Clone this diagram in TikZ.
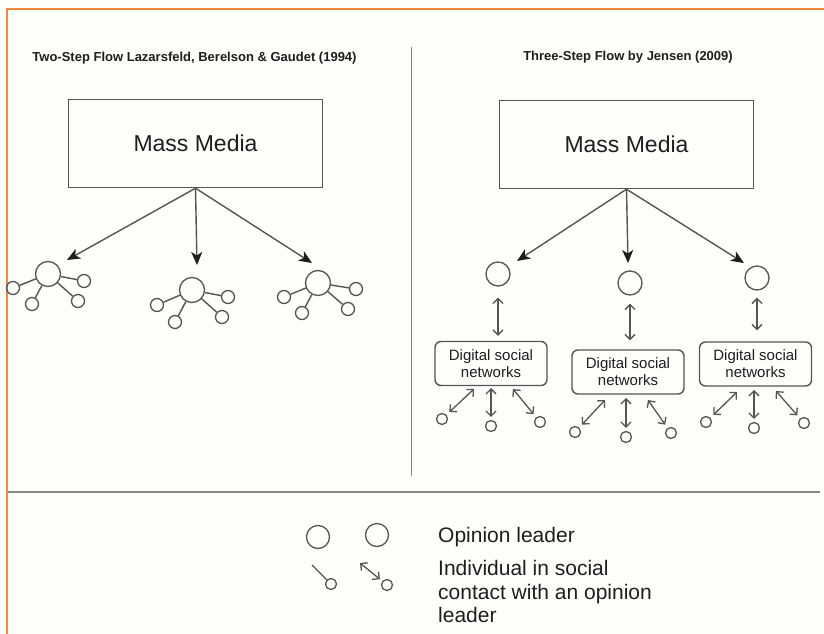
\documentclass[tikz,border=0pt]{standalone}
\usepackage{fontspec}
\setmainfont{Liberation Sans}
\usetikzlibrary{arrows.meta}
\definecolor{frameorange}{HTML}{F5883C}
\definecolor{linegray}{HTML}{555555}
\definecolor{divgray}{HTML}{888888}
\definecolor{tipdark}{HTML}{1E1E1E}
\definecolor{txt}{HTML}{1E1E1E}
\definecolor{paper}{HTML}{FEFEFB}
\begin{document}
\begin{tikzpicture}[x=1pt,y=-1pt,
 mmbox/.style={draw=linegray,line width=1.4pt,minimum width=254pt,minimum height=88pt,inner sep=0pt,font=\fontsize{23}{26}\selectfont,text=txt},
 big/.style={circle,draw=linegray,line width=1.3pt,minimum size=25pt,inner sep=0pt},
 small/.style={circle,draw=linegray,line width=1.3pt,minimum size=13pt,inner sep=0pt},
 tiny/.style={circle,draw=linegray,line width=1.3pt,minimum size=11pt,inner sep=0pt},
 lead/.style={circle,draw=linegray,line width=1.3pt,minimum size=24pt,inner sep=0pt},
 dsn/.style={draw=linegray,line width=1.4pt,rounded corners=6pt,minimum width=112pt,minimum height=44pt,align=center,inner sep=0pt,font=\fontsize{15}{17}\selectfont,text=txt},
 mainarrow/.style={draw=linegray,line width=1.4pt,-{Stealth[length=13pt,width=11pt,inset=3.5pt,color=tipdark]}},
 tie/.style={draw=linegray,line width=1.4pt},
 dbl/.style={draw=linegray,line width=1.3pt,{Straight Barb[length=5pt,width=10pt]}-{Straight Barb[length=5pt,width=10pt]}},
 title/.style={font=\fontsize{13}{15}\selectfont\bfseries,text=txt},
 legend/.style={font=\fontsize{21}{23.5}\selectfont,text=txt,anchor=west,align=left,inner sep=0pt}
]
\useasboundingbox (0,0) rectangle (824,634);
\fill[paper] (0,0) rectangle (824,634);
\draw[frameorange,line width=2.2pt] (7,634) -- (7,9) -- (824,9);
\draw[divgray,line width=1.6pt] (411.5,47) -- (411.5,476);
\draw[divgray,line width=2.2pt] (8,492) -- (820,492);

% titles
\node[title] (t1) at (194.5,58) {Two-Step Flow Lazarsfeld, Berelson \& Gaudet (1994)};
\node[title] (t2) at (628,57) {Three-Step Flow by Jensen (2009)};

% mass media boxes
\node[mmbox] (mm1) at (195.5,143.5) {Mass Media};
\node[mmbox] (mm2) at (626.5,144.5) {Mass Media};

% ---------- left: two-step ----------
\coordinate (p1) at (67,260);
\coordinate (p2) at (197,265);
\coordinate (p3) at (312,263);
\draw[mainarrow] (mm1.south) -- (p1);
\draw[mainarrow] (mm1.south) -- (p2);
\draw[mainarrow] (mm1.south) -- (p3);

\node[big] (b1) at (48,274) {};
\node[small] (b1a) at (13,288) {};
\node[small] (b1b) at (32,304) {};
\node[small] (b1c) at (84,281) {};
\node[small] (b1d) at (78,301) {};
\foreach \s in {b1a,b1b,b1c,b1d} \draw[tie] (b1) -- (\s);

\node[big] (b2) at (192,290) {};
\node[small] (b2a) at (157,305) {};
\node[small] (b2b) at (175,322) {};
\node[small] (b2c) at (228,297) {};
\node[small] (b2d) at (222,317) {};
\foreach \s in {b2a,b2b,b2c,b2d} \draw[tie] (b2) -- (\s);

\node[big] (b3) at (318,283) {};
\node[small] (b3a) at (284,297) {};
\node[small] (b3b) at (302,313) {};
\node[small] (b3c) at (356,289) {};
\node[small] (b3d) at (348,309) {};
\foreach \s in {b3a,b3b,b3c,b3d} \draw[tie] (b3) -- (\s);

% ---------- right: three-step ----------
\coordinate (q1) at (517,261);
\coordinate (q2) at (628,263);
\coordinate (q3) at (744,263);
\draw[mainarrow] (mm2.south) -- (q1);
\draw[mainarrow] (mm2.south) -- (q2);
\draw[mainarrow] (mm2.south) -- (q3);

\node[lead] (l1) at (498,274) {};
\node[lead] (l2) at (630,283) {};
\node[lead] (l3) at (757,278) {};

\node[dsn] (d1) at (491,363.5) {Digital social\\networks};
\node[dsn] (d2) at (628,372) {Digital social\\networks};
\node[dsn] (d3) at (755.5,364) {Digital social\\networks};

\draw[dbl,shorten <=11pt,shorten >=5pt] (l1.south) -- (l1.south |- d1.north);
\draw[dbl,shorten <=8pt,shorten >=9pt] (l2.south) -- (l2.south |- d2.north);
\draw[dbl,shorten <=7pt,shorten >=11pt] (l3.south) -- (l3.south |- d3.north);

% individuals under box 1
\node[tiny] (c1a) at (442,419) {};
\node[tiny] (c1b) at (491,426) {};
\node[tiny] (c1c) at (540,422) {};
\coordinate (e1a) at (474,389);
\coordinate (e1b) at (491,388);
\coordinate (e1c) at (513,389);
\draw[dbl,shorten >=4pt] (e1a) -- (c1a);
\draw[dbl,shorten >=3pt] (e1b) -- (c1b);
\draw[dbl,shorten >=4pt] (e1c) -- (c1c);

% individuals under box 2
\node[tiny] (c2a) at (575,432) {};
\node[tiny] (c2b) at (626,437) {};
\node[tiny] (c2c) at (671,433) {};
\coordinate (e2a) at (605,400);
\coordinate (e2b) at (626,398);
\coordinate (e2c) at (648,400);
\draw[dbl,shorten >=4pt] (e2a) -- (c2a);
\draw[dbl,shorten >=3pt] (e2b) -- (c2b);
\draw[dbl,shorten >=4pt] (e2c) -- (c2c);

% individuals under box 3
\node[tiny] (c3a) at (706,422) {};
\node[tiny] (c3b) at (754,428) {};
\node[tiny] (c3c) at (804,423) {};
\coordinate (e3a) at (737,392);
\coordinate (e3b) at (754,390);
\coordinate (e3c) at (776,391);
\draw[dbl,shorten >=4pt] (e3a) -- (c3a);
\draw[dbl,shorten >=3pt] (e3b) -- (c3b);
\draw[dbl,shorten >=4pt] (e3c) -- (c3c);

% ---------- legend ----------
\node[lead,minimum size=23pt] (g1) at (318,537) {};
\node[lead,minimum size=23pt] (g2) at (377,535) {};
\node[tiny] (g3) at (331,584) {};
\coordinate (g3s) at (312,565);
\draw[tie] (g3s) -- (g3);
\node[tiny] (g4) at (387,585) {};
\coordinate (g4s) at (360,563);
\draw[dbl,shorten >=3pt] (g4s) -- (g4);

\node[legend] (lt1) at (438,537) {Opinion leader};
\node[legend] (lt2) at (438,591.5) {Individual in social\\contact with an opinion\\leader};
\end{tikzpicture}
\end{document}
